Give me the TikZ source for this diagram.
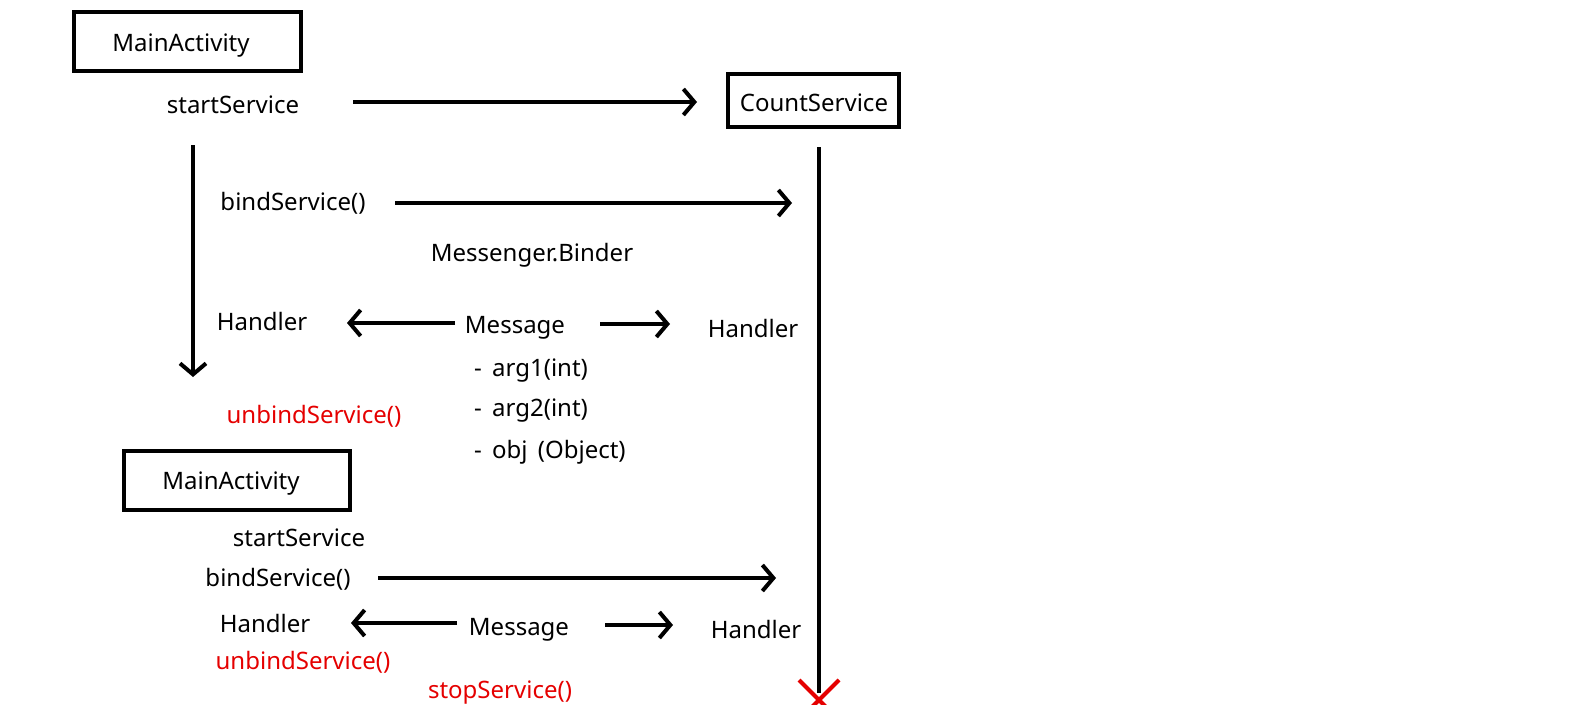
\documentclass[tikz,border=0pt]{standalone}
\usepackage{fontspec}
\setmainfont{Noto Sans}
\usetikzlibrary{arrows.meta, positioning}

\tikzset{
    box/.style={draw, line width=4pt, minimum width=227pt, minimum height=59pt, inner sep=0pt},
    lbl/.style={inner sep=0pt, yshift=-3pt, font=\fontsize{24}{28}\selectfont},
    redlbl/.style={lbl, text=red!90!black},
    msg/.style={line width=4pt, -{Straight Barb[length=11pt, width=26pt, line width=4pt]}}
}

\begin{document}
\begin{tikzpicture}[x=1pt, y=-1pt]
    \useasboundingbox (0,0) rectangle (1578,704);

    % Boxes
    \node[box] (act1) at (187.5,41.5) {};
    \node[lbl] (act1txt) at (181,43) {MainActivity};
    \node[box, minimum width=171pt, minimum height=53pt] (count) at (813.5,100.5) {};
    \node[lbl] (counttxt) at (814,100) {CountService};

    % Lifelines
    \coordinate (lifeA) at (193,145);
    \coordinate (lifeAend) at (193,377);
    \coordinate (lifeB) at (819,147);
    \coordinate (lifeBend) at (819,693);
    \draw[msg] (lifeA) -- (lifeAend);
    \draw[line width=4pt] (lifeB) -- (lifeBend);

    % First round
    \node[lbl] (start1) at (233,102) {startService};
    \coordinate (s1a) at (353,102);
    \coordinate (s1b) at (697,102);
    \draw[msg] (s1a) -- (s1b);

    \node[lbl] (bind1) at (293,200) {bindService()};
    \coordinate (b1a) at (395,203);
    \coordinate (b1b) at (792,203);
    \draw[msg] (b1a) -- (b1b);

    \node[lbl] (binder) at (532,252) {Messenger.Binder};

    \node[lbl] (hand1l) at (262,318) {Handler};
    \node[lbl] (msg1) at (515,325) {Message};
    \node[lbl] (hand1r) at (753,325) {Handler};
    \coordinate (m1a) at (455,323);
    \coordinate (m1b) at (347,323);
    \coordinate (m1c) at (600,324);
    \coordinate (m1d) at (670,324);
    \draw[msg] (m1a) -- (m1b);
    \draw[msg] (m1c) -- (m1d);

    \node[lbl, anchor=west] (arg1) at (474,368) {-\, arg1(int)};
    \node[lbl, anchor=west] (arg2) at (474,408) {-\, arg2(int)};
    \node[lbl, anchor=west] (argobj) at (474,449) {-\, obj\, (Object)};

    \node[redlbl] (unbind1) at (314,413) {unbindService()};

    % Second round
    \node[box, minimum width=226pt] (act2) at (237,480.5) {};
    \node[lbl] (act2txt) at (231,481) {MainActivity};
    \node[lbl] (start2) at (299,535) {startService};

    \node[lbl] (bind2) at (278,576) {bindService()};
    \coordinate (b2a) at (378,578);
    \coordinate (b2b) at (776,578);
    \draw[msg] (b2a) -- (b2b);

    \node[lbl] (hand2l) at (265,620) {Handler};
    \node[lbl] (msg2) at (519,627) {Message};
    \node[lbl] (hand2r) at (756,626) {Handler};
    \coordinate (m2a) at (457,623);
    \coordinate (m2b) at (351,623);
    \coordinate (m2c) at (605,625);
    \coordinate (m2d) at (673,625);
    \draw[msg] (m2a) -- (m2b);
    \draw[msg] (m2c) -- (m2d);

    \node[redlbl] (unbind2) at (303,659) {unbindService()};
    \node[redlbl] (stop) at (500,690) {stopService()};

    % End of service
    \coordinate (xmark) at (819,700);
    \draw[red!90!black, line width=4pt] (xmark) ++(-20,-20) -- ++(40,40) (xmark) ++(20,-20) -- ++(-40,40);
\end{tikzpicture}
\end{document}
